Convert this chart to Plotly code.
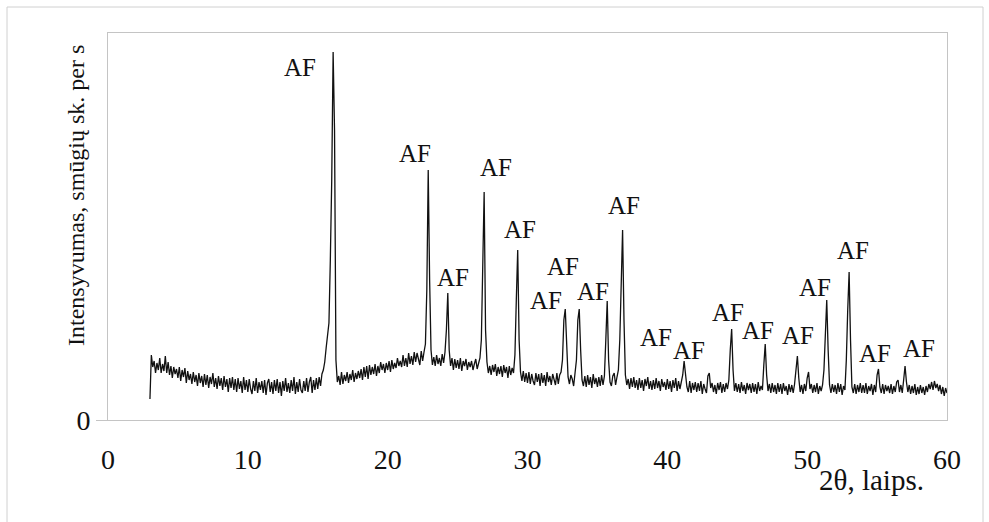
import numpy as np
import plotly.graph_objects as go

# XRD scan, 2theta from 3.0 to 60.0 deg in 0.1 deg steps
scan_start, scan_step = 3.0, 0.1

# Intensity (counts/s), one row per degree
i_03_09 = [
    63, 195, 159, 177, 141, 171, 150, 186, 141, 168,
    147, 192, 141, 174, 135, 162, 126, 159, 138, 153,
    126, 159, 117, 150, 129, 156, 111, 147, 120, 138,
    108, 144, 114, 135, 102, 141, 111, 132, 99, 138,
    105, 135, 96, 129, 108, 141, 99, 126, 93, 132,
    102, 126, 90, 132, 99, 123, 84, 126, 96, 129,
    90, 123, 84, 126, 93, 117, 81, 129, 90, 120,
]
i_10_19 = [
    84, 123, 93, 78, 117, 87, 126, 81, 114, 90,
    117, 81, 120, 75, 111, 123, 84, 114, 78, 120,
    87, 123, 81, 114, 72, 117, 87, 126, 84, 111,
    81, 120, 87, 129, 78, 114, 84, 123, 90, 81,
    117, 87, 126, 84, 114, 129, 81, 120, 90, 126,
    93, 129, 102, 138, 150, 174, 216, 258, 291, 480,
    720, 1104, 870, 180, 114, 132, 105, 144, 108, 135,
    117, 144, 111, 138, 120, 150, 114, 141, 123, 147,
    126, 153, 120, 159, 129, 162, 123, 165, 135, 159,
    138, 168, 132, 162, 141, 174, 150, 168, 141, 171,
]
i_20_29 = [
    150, 177, 144, 180, 153, 171, 156, 186, 162, 177,
    159, 195, 162, 186, 159, 201, 168, 192, 165, 204,
    174, 201, 180, 165, 207, 177, 204, 228, 390, 750,
    420, 210, 165, 189, 162, 195, 168, 186, 162, 198,
    171, 204, 270, 381, 210, 162, 186, 150, 183, 156,
    180, 153, 186, 147, 177, 162, 183, 150, 174, 159,
    177, 150, 168, 183, 153, 171, 186, 240, 480, 684,
    270, 174, 141, 162, 135, 165, 144, 168, 132, 159,
    138, 162, 129, 165, 141, 159, 126, 162, 135, 156,
    141, 195, 360, 510, 240, 144, 117, 147, 114, 141,
]
i_30_39 = [
    111, 144, 108, 138, 117, 105, 141, 114, 138, 102,
    141, 111, 135, 102, 144, 114, 132, 105, 138, 117,
    105, 141, 108, 135, 144, 180, 300, 333, 210, 129,
    108, 135, 123, 102, 141, 180, 300, 333, 210, 120,
    102, 132, 99, 135, 105, 129, 96, 138, 108, 126,
    99, 129, 102, 135, 105, 132, 240, 357, 180, 114,
    102, 132, 141, 105, 129, 150, 240, 420, 570, 300,
    135, 105, 123, 93, 126, 99, 129, 96, 120, 90,
    126, 96, 120, 87, 123, 102, 129, 93, 117, 90,
    120, 93, 126, 96, 117, 87, 123, 99, 114, 90,
]
i_40_49 = [
    123, 93, 117, 84, 120, 96, 126, 87, 117, 93,
    111, 135, 177, 144, 99, 84, 117, 81, 111, 90,
    114, 84, 111, 87, 117, 78, 108, 93, 81, 132,
    141, 96, 111, 84, 105, 78, 111, 90, 114, 81,
    108, 84, 111, 93, 120, 210, 273, 150, 87, 111,
    84, 108, 81, 114, 87, 105, 78, 111, 90, 108,
    81, 111, 84, 108, 78, 114, 87, 102, 90, 165,
    228, 135, 87, 108, 81, 111, 84, 105, 78, 111,
    84, 108, 78, 111, 87, 102, 75, 108, 84, 105,
    81, 108, 150, 192, 126, 84, 105, 78, 108, 87,
]
i_50_60 = [
    126, 144, 93, 108, 81, 105, 84, 111, 78, 102,
    87, 105, 150, 270, 360, 210, 105, 81, 108, 84,
    105, 78, 111, 84, 108, 75, 102, 90, 180, 330,
    444, 240, 99, 81, 108, 78, 105, 84, 111, 81,
    105, 81, 111, 78, 102, 87, 108, 75, 105, 84,
    135, 153, 99, 81, 108, 78, 105, 87, 102, 81,
    108, 78, 102, 84, 114, 120, 84, 105, 81, 120,
    162, 114, 84, 105, 78, 102, 81, 108, 75, 99,
    78, 105, 81, 99, 75, 102, 84, 108, 93, 114,
    90, 117, 96, 108, 87, 105, 78, 99, 72, 96,
    81,
]

intensity = i_03_09 + i_10_19 + i_20_29 + i_30_39 + i_40_49 + i_50_60
two_theta = np.round(scan_start + scan_step * np.arange(len(intensity)), 2)

# Phase labels (AF) placed beside the reflections
af_x = [13.71, 21.98, 24.70, 27.78, 29.43, 32.51, 31.29, 34.65, 36.87,
        39.16, 41.53, 44.32, 46.47, 49.33, 50.58, 53.30, 54.84, 57.99]
af_y = [1057, 801, 429, 759, 573, 462, 360, 387, 645,
        249, 210, 324, 270, 255, 399, 510, 201, 216]

x_ticks = [0, 10, 20, 30, 40, 50, 60]
y_title = "Intensyvumas, smūgių sk. per s"
x_title = "2θ, laips."

serif = "Liberation Serif, Times New Roman, serif"
grey = "#c4c4c4"

fig = go.Figure()
fig.add_trace(go.Scatter(
    x=two_theta, y=intensity, mode="lines",
    line=dict(color="#111111", width=1.3),
    showlegend=False, hoverinfo="skip",
))

for xa, ya in zip(af_x, af_y):
    fig.add_annotation(x=xa, y=ya, text="AF", showarrow=False,
                       font=dict(family=serif, size=25, color="#111111"),
                       xanchor="center", yanchor="middle")

fig.add_annotation(xref="paper", yref="paper", x=(76 - 108) / 839, y=(420 - 196) / 387,
                   text=y_title, textangle=-90, showarrow=False,
                   font=dict(family=serif, size=24, color="#111111"),
                   xanchor="center", yanchor="middle")
fig.add_annotation(xref="paper", yref="paper", x=(871 - 108) / 839, y=(420 - 480) / 387,
                   text=x_title, showarrow=False,
                   font=dict(family=serif, size=29, color="#111111"),
                   xanchor="center", yanchor="middle")

# chart frame
fig.add_shape(type="rect", xref="paper", yref="paper",
              x0=(7 - 108) / 839, x1=(983 - 108) / 839,
              y0=(420 - 560) / 387, y1=(420 - 7) / 387,
              line=dict(color="#d0d0d0", width=1), layer="below")

fig.update_layout(
    width=989, height=522,
    margin=dict(l=108, r=42, t=33, b=102),
    paper_bgcolor="white", plot_bgcolor="white",
    font=dict(family=serif, color="#111111"),
    xaxis=dict(range=[0, 60], tickvals=x_ticks, showgrid=False, zeroline=False,
               showline=True, mirror=True, linecolor=grey, linewidth=1,
               ticks="", ticklabelstandoff=14,
               tickfont=dict(family=serif, size=28, color="#111111")),
    yaxis=dict(range=[0, 1161], tickvals=[0], showgrid=False, zeroline=False,
               showline=True, mirror=True, linecolor=grey, linewidth=1,
               ticks="outside", ticklen=11, tickcolor=grey,
               tickfont=dict(family=serif, size=28, color="#111111")),
)

fig.write_html("out.html")
